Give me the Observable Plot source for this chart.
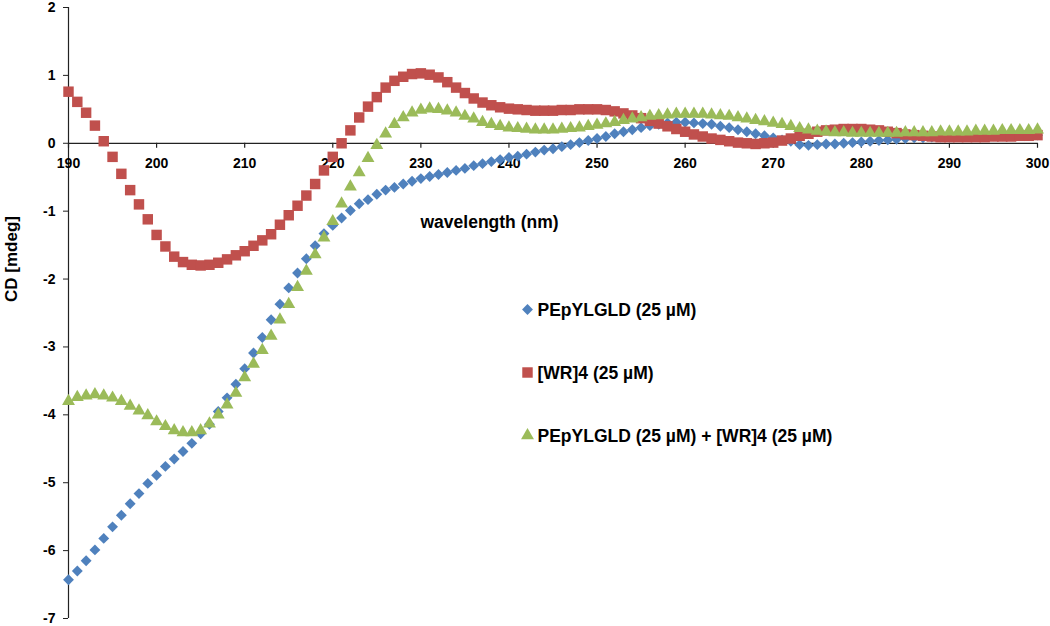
<!DOCTYPE html>
<html>
<head>
<meta charset="utf-8">
<script src="https://cdn.jsdelivr.net/npm/d3@7"></script>
<script src="https://cdn.jsdelivr.net/npm/@observablehq/plot@0.6"></script>
<style>
  html, body { margin: 0; padding: 0; background: #fff; }
  #chart { width: 1050px; height: 626px; }
  svg { font-family: "Liberation Sans", Arial, sans-serif; }
</style>
</head>
<body>
<div id="chart"></div>
<script>
const wavelength = [190,191,192,193,194,195,196,197,198,199,200,201,202,203,204,205,206,207,208,209,210,211,212,213,214,215,216,217,218,219,220,221,222,223,224,225,226,227,228,229,230,231,232,233,234,235,236,237,238,239,240,241,242,243,244,245,246,247,248,249,250,251,252,253,254,255,256,257,258,259,260,261,262,263,264,265,266,267,268,269,270,271,272,273,274,275,276,277,278,279,280,281,282,283,284,285,286,287,288,289,290,291,292,293,294,295,296,297,298,299,300];

const pep = [-6.43,-6.30,-6.15,-5.99,-5.82,-5.65,-5.48,-5.31,-5.16,-5.01,-4.89,-4.76,-4.65,-4.54,-4.42,-4.28,-4.14,-3.95,-3.75,-3.55,-3.32,-3.09,-2.86,-2.60,-2.37,-2.13,-1.91,-1.70,-1.51,-1.33,-1.21,-1.10,-0.99,-0.89,-0.83,-0.75,-0.69,-0.65,-0.60,-0.56,-0.52,-0.49,-0.46,-0.43,-0.40,-0.37,-0.33,-0.30,-0.27,-0.24,-0.21,-0.19,-0.16,-0.13,-0.10,-0.08,-0.05,-0.02,0.01,0.04,0.07,0.10,0.14,0.17,0.20,0.23,0.26,0.28,0.30,0.31,0.31,0.30,0.29,0.28,0.25,0.23,0.20,0.17,0.14,0.11,0.08,0.05,0.03,-0.02,-0.03,-0.02,-0.01,-0.01,0.00,0.01,0.02,0.03,0.04,0.05,0.06,0.07,0.08,0.08,0.09,0.09,0.10,0.10,0.10,0.11,0.11,0.11,0.11,0.12,0.12,0.12,0.12];

const wr4 = [0.76,0.61,0.45,0.26,0.03,-0.20,-0.45,-0.69,-0.90,-1.12,-1.35,-1.52,-1.67,-1.75,-1.79,-1.80,-1.79,-1.76,-1.71,-1.65,-1.59,-1.51,-1.43,-1.34,-1.20,-1.06,-0.92,-0.77,-0.60,-0.40,-0.20,0.00,0.19,0.38,0.54,0.68,0.82,0.92,0.98,1.02,1.03,1.01,0.97,0.90,0.82,0.74,0.66,0.60,0.56,0.53,0.51,0.50,0.49,0.48,0.48,0.48,0.49,0.49,0.50,0.50,0.50,0.49,0.47,0.44,0.41,0.37,0.33,0.29,0.25,0.21,0.17,0.13,0.10,0.07,0.05,0.03,0.01,0.00,-0.01,0.00,0.01,0.04,0.07,0.11,0.14,0.17,0.19,0.20,0.21,0.21,0.21,0.20,0.19,0.17,0.15,0.13,0.12,0.11,0.10,0.09,0.09,0.09,0.09,0.09,0.09,0.10,0.10,0.10,0.11,0.11,0.12];

const mix = [-3.80,-3.74,-3.72,-3.70,-3.72,-3.75,-3.80,-3.87,-3.94,-4.01,-4.10,-4.17,-4.23,-4.26,-4.26,-4.23,-4.13,-4.00,-3.85,-3.68,-3.45,-3.25,-3.05,-2.84,-2.60,-2.37,-2.12,-1.88,-1.64,-1.39,-1.15,-0.89,-0.64,-0.43,-0.22,-0.03,0.14,0.28,0.38,0.45,0.49,0.51,0.50,0.48,0.45,0.40,0.36,0.31,0.28,0.25,0.23,0.22,0.21,0.20,0.20,0.20,0.21,0.22,0.23,0.25,0.27,0.29,0.31,0.34,0.36,0.38,0.40,0.41,0.42,0.43,0.43,0.43,0.43,0.42,0.41,0.40,0.38,0.36,0.34,0.32,0.30,0.28,0.25,0.22,0.20,0.18,0.17,0.16,0.16,0.15,0.15,0.15,0.15,0.15,0.15,0.16,0.16,0.16,0.16,0.17,0.17,0.17,0.17,0.18,0.18,0.18,0.19,0.19,0.19,0.19,0.20];

const seriesNames = ["PEpYLGLD (25 µM)", "[WR]4 (25 µM)", "PEpYLGLD (25 µM) + [WR]4 (25 µM)"];
const seriesValues = [pep, wr4, mix];
const seriesColors = ["#4F81BD", "#C0504D", "#9BBB59"];
const seriesSymbols = ["diamond2", "square", "triangle"];
const seriesR = [4.9, 5.9, 4.8];

const xTicks = [190,200,210,220,230,240,250,260,270,280,290,300];
const yTicks = [-7,-6,-5,-4,-3,-2,-1,0,1,2];
const xTitle = "wavelength (nm)";
const yTitle = "CD [mdeg]";

const W = 1050, H = 626;
const mL = 68, mR = 13, mT = 7, mB = 8;
const pxPerUnit = (H - mT - mB) / 9;
const tickLen = 5 / pxPerUnit;

const marks = [];
// axes lines
marks.push(Plot.ruleX([190], {y1: -7, y2: 2, stroke: "#222", strokeWidth: 1.2}));
marks.push(Plot.ruleY([0], {x1: 190, x2: 300, stroke: "#222", strokeWidth: 1.2}));
// x ticks along y=0
marks.push(Plot.ruleX(xTicks, {x: d => d, y1: 0, y2: -tickLen, stroke: "#222", strokeWidth: 1.2}));
marks.push(Plot.text(xTicks, {x: d => d, y: 0, dy: 20, text: d => String(d), fontSize: 14, fontWeight: "bold", fill: "#000"}));
// y axis
marks.push(Plot.axisY(yTicks, {anchor: "left", tickSize: 5, tickPadding: 8, tickFormat: d => String(d), fontSize: 14, fontWeight: "bold", fill: "#000", stroke: "#222", label: null}));

// data series (drawn in order: blue, red, green on top)
seriesValues.forEach((vals, i) => {
  const data = wavelength.map((w, j) => ({w, v: vals[j]}));
  marks.push(Plot.dot(data, {x: "w", y: "v", symbol: () => seriesSymbols[i], r: seriesR[i], fill: seriesColors[i], stroke: "none"}));
});

// legend
seriesNames.forEach((name, i) => {
  marks.push(Plot.dot([name], {frameAnchor: "top-left", dx: 459, dy: 302 + i * 63, symbol: () => seriesSymbols[i], r: seriesR[i], fill: seriesColors[i]}));
  marks.push(Plot.text([name], {frameAnchor: "top-left", dx: 469, dy: 303 + i * 63, text: d => d, textAnchor: "start", lineAnchor: "middle", fontSize: 17.5, fontWeight: "bold", fill: "#000"}));
});

// x axis title
marks.push(Plot.text([xTitle], {frameAnchor: "top-left", dx: 352, dy: 215, text: d => d, textAnchor: "start", lineAnchor: "middle", fontSize: 17.5, fontWeight: "bold", fill: "#000"}));

const chart = Plot.plot({
  width: W, height: H,
  marginLeft: mL, marginRight: mR, marginTop: mT, marginBottom: mB,
  x: {domain: [190, 300], axis: null},
  y: {domain: [-7, 2], axis: null},
  symbol: {type: "identity"},
  style: {background: "#fff", fontFamily: "'Liberation Sans', Arial, sans-serif"},
  marks
});

const svg = d3.select(chart);
// rotated y title as real text
svg.append("text")
  .attr("transform", `translate(17, 259) rotate(-90)`)
  .attr("text-anchor", "middle")
  .attr("font-size", 17)
  .attr("font-weight", "bold")
  .attr("font-family", "'Liberation Sans', Arial, sans-serif")
  .attr("fill", "#000")
  .text(yTitle);

document.getElementById("chart").appendChild(chart);
</script>
</body>
</html>
